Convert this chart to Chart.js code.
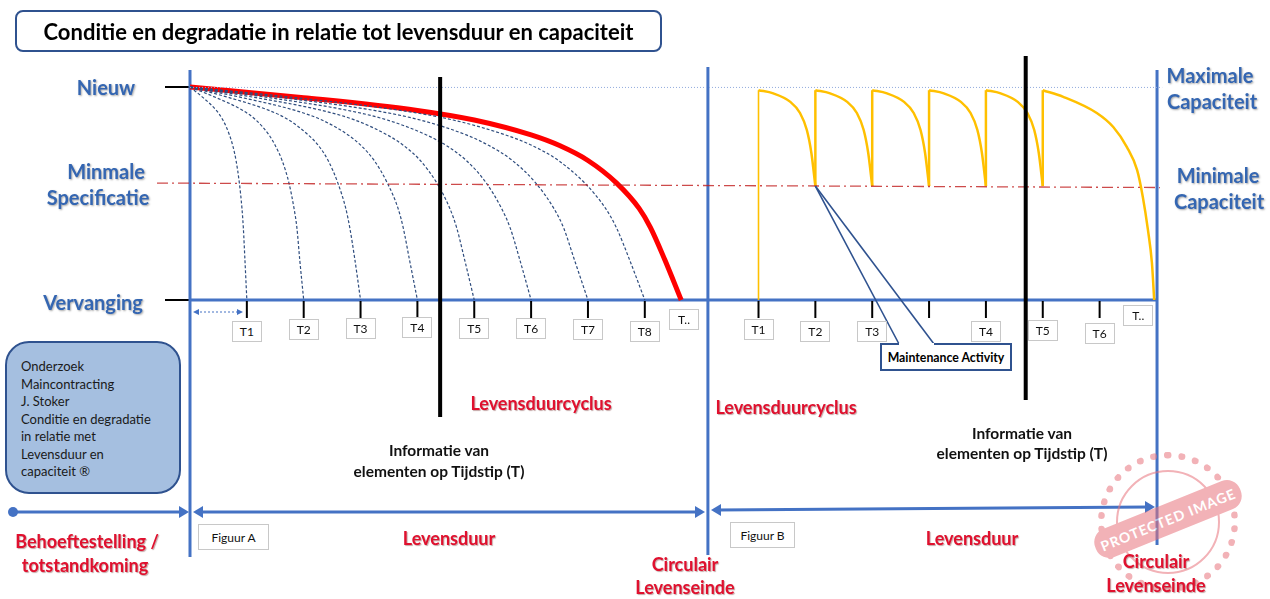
<!DOCTYPE html>
<html>
<head>
<meta charset="utf-8">
<script src="https://cdn.jsdelivr.net/npm/chart.js@4.4.0/dist/chart.umd.min.js"></script>
<style>
  html, body { margin: 0; padding: 0; background: #fff; overflow: hidden; }
  #wrap { position: relative; width: 1270px; height: 599px; font-family: Lato, "Open Sans", sans-serif; }
  #diagram { position: absolute; left: 0; top: 0; }
  .lbl { position: absolute; transform: translate(-50%, -50%); white-space: nowrap; font-weight: bold; }
  .blue { color: #3466B2; font-size: 20px; text-shadow: 1px 1px 2px rgba(0,0,0,0.35); }
  .red { color: #E0102E; font-size: 18px; text-shadow: 1px 1px 1px rgba(90,0,0,0.35); }
  .info { color: #111; font-size: 15.5px; }
  .box { position: absolute; background: #fff; border: 1px solid #c8c8c8; font-size: 12px; color: #111;
         display: flex; align-items: center; justify-content: center; box-sizing: border-box; }
  #title { position: absolute; left: 15px; top: 10px; width: 647px; height: 42px; box-sizing: border-box;
           border: 2px solid #2F528F; border-radius: 8px; font-weight: bold; font-size: 22px;
           display: flex; align-items: center; justify-content: center; color: #000; }
  #note { position: absolute; left: 5px; top: 341px; width: 176px; height: 153px; box-sizing: border-box;
          background: #A5BFE0; border: 2px solid #2F528F; border-radius: 24px; font-size: 13px;
          line-height: 17.5px; color: #1a1a1a; padding: 15px 0 0 14px; }
  #maint { position: absolute; left: 880px; top: 343px; width: 132px; height: 28px; box-sizing: border-box;
           background: #fff; border: 2px solid #2F528F; font-size: 12.3px; font-weight: bold;
           display: flex; align-items: center; justify-content: center; }
  #gap { position: absolute; left: 899px; top: 343px; width: 35px; height: 2px; background: #fff; }
  #stamp { position: absolute; left: 1098px; top: 452px; width: 140px; height: 140px; opacity: 0.55; }
  #stamp .r1 { position: absolute; inset: 0; border-radius: 50%; border: 7px dotted #E8737C; box-sizing: border-box; }
  #stamp .r2 { position: absolute; inset: 18px; border-radius: 50%; border: 2px solid #E8737C; box-sizing: border-box; }
  #stamp .band { position: absolute; left: -8px; top: 52px; width: 156px; height: 30px; background: #E8737C;
                 border-radius: 14px; transform: rotate(-22deg); color: #fff; font-weight: bold; font-size: 14px;
                 letter-spacing: 1px; display: flex; align-items: center; justify-content: center; }
</style>
</head>
<body>
<div id="wrap">
  <canvas id="diagram" width="1270" height="599"></canvas>

  <div id="title">Conditie en degradatie in relatie tot levensduur en capaciteit</div>

  <div class="lbl blue" style="left:106px; top:87px;">Nieuw</div>
  <div class="lbl blue" style="left:106px; top:171px;">Minmale</div>
  <div class="lbl blue" style="left:98px; top:197px;">Specificatie</div>
  <div class="lbl blue" style="left:93px; top:302px;">Vervanging</div>
  <div class="lbl blue" style="left:1210px; top:75px;">Maximale</div>
  <div class="lbl blue" style="left:1212px; top:101px;">Capaciteit</div>
  <div class="lbl blue" style="left:1218px; top:175px;">Minimale</div>
  <div class="lbl blue" style="left:1219px; top:201px;">Capaciteit</div>

  <div class="lbl red" style="left:541px; top:403px;">Levensduurcyclus</div>
  <div class="lbl red" style="left:786px; top:407px;">Levensduurcyclus</div>
  <div class="lbl info" style="left:439px; top:450px;">Informatie van</div>
  <div class="lbl info" style="left:439px; top:471px;">elementen op Tijdstip (T)</div>
  <div class="lbl info" style="left:1022px; top:433px;">Informatie van</div>
  <div class="lbl info" style="left:1022px; top:453px;">elementen op Tijdstip (T)</div>

  <div class="lbl red" style="left:87px; top:541px;">Behoeftestelling /</div>
  <div class="lbl red" style="left:85px; top:565px;">totstandkoming</div>
  <div class="lbl red" style="left:449px; top:538px;">Levensduur</div>
  <div class="lbl red" style="left:972px; top:538px;">Levensduur</div>
  <div class="lbl red" style="left:685px; top:564px;">Circulair</div>
  <div class="lbl red" style="left:685px; top:587px;">Levenseinde</div>

  <div class="box" style="left:198px; top:524px; width:71px; height:26px;">Figuur A</div>
  <div class="box" style="left:730px; top:522px; width:65px; height:26px;">Figuur B</div>

  <div id="note">Onderzoek<br>Maincontracting<br>J. Stoker<br>Conditie en degradatie<br>in relatie met<br>Levensduur en<br>capaciteit &reg;</div>

  <div id="maint">Maintenance Activity</div>
  <div id="gap"></div>

  <div id="stamp"><div class="r1"></div><div class="r2"></div><div class="band">PROTECTED IMAGE</div></div>

  <div class="lbl red" style="left:1156px; top:561px;">Circulair</div>
  <div class="lbl red" style="left:1156px; top:585px;">Levenseinde</div>
</div>

<script>
// x = tijd (T-eenheden), y = conditie (0 = Vervanging, 100 = Nieuw)
const ticksA = [1, 2, 3, 4, 5, 6, 7, 8];
const ticksB = [10, 11, 12, 13, 14, 15, 16];
const tLabelsA = ['T1', 'T2', 'T3', 'T4', 'T5', 'T6', 'T7', 'T8'];
const tLabelsB = ['T1', 'T2', 'T3', '', 'T4', 'T5', 'T6'];

// Figuur A: rode levensduurcurve
const redT = [0, 2, 4, 5, 6, 6.5, 7, 7.5, 7.9, 8.1, 8.35, 8.64];
const redV = [100, 95, 89, 84.5, 77.5, 72.5, 65.5, 55, 43, 34, 19, 0];

// Figuur A: gestippelde curves die eindigen op T1..T8
const dashedV = [100, 95, 89, 84.5, 77.5, 72.5, 65.5, 55, 43, 34, 19, 0];
const dashedT1 = [0, 0.231, 0.463, 0.579, 0.694, 0.752, 0.81, 0.868, 0.914, 0.938, 0.966, 1];
const dashedT2 = [0, 0.46, 0.93, 1.16, 1.39, 1.5, 1.62, 1.74, 1.83, 1.88, 1.93, 2];
const dashedT3 = [0, 0.69, 1.39, 1.74, 2.08, 2.26, 2.43, 2.6, 2.74, 2.81, 2.9, 3];
const dashedT4 = [0, 0.92, 1.85, 2.32, 2.78, 3.01, 3.24, 3.47, 3.66, 3.75, 3.86, 4];
const dashedT5 = [0, 1.16, 2.32, 2.9, 3.47, 3.76, 4.05, 4.34, 4.57, 4.69, 4.83, 5];
const dashedT6 = [0, 1.39, 2.78, 3.47, 4.16, 4.51, 4.86, 5.21, 5.48, 5.63, 5.8, 6];
const dashedT7 = [0, 1.62, 3.24, 4.05, 4.86, 5.26, 5.67, 6.08, 6.4, 6.57, 6.76, 7];
const dashedT8 = [0, 1.85, 3.7, 4.63, 5.55, 6.02, 6.48, 6.94, 7.31, 7.5, 7.73, 8];

// Figuur B: capaciteit met onderhoud (geel)
const cycleV = [98.5, 97, 93, 87.8, 79.8, 69, 53.5];
const cycleT1 = [10, 10.26, 10.56, 10.73, 10.85, 10.93, 11];
const cycleT2 = [11, 11.26, 11.56, 11.73, 11.85, 11.93, 12];
const cycleT3 = [12, 12.26, 12.56, 12.73, 12.85, 12.93, 13];
const cycleT4 = [13, 13.26, 13.56, 13.73, 13.85, 13.93, 14];
const cycleT5 = [14, 14.26, 14.56, 14.73, 14.85, 14.93, 15];
const lastT = [15, 15.36, 15.95, 16.24, 16.48, 16.66, 16.76, 16.85, 16.92, 16.96];
const lastV = [98.5, 95.4, 87.8, 81.2, 71.8, 61, 48.4, 32.9, 17.4, 0];
const jumpT = [11, 12, 13, 14, 15];
const jumpFrom = 53.5, jumpTo = 98.5;
const startT = 10;

// referentielijnen
const newT = [0, 17.1];
const newV = [99.8, 99.8];
const minT = [-0.58, 17.06];
const minV = [54.9, 52.8];
const markerT = [4.4, 14.7];          // zwarte lijnen: informatie op tijdstip T
const axisT = [0, 9.11, 17.01];       // blauwe verticale assen

// schaal zodat de hele pagina het tekengebied is
const X_MIN = -3.342, X_MAX = 18.997;
const Y_MIN = -140.376, Y_MAX = 140.845;

function pts(ts, vs) {
    return ts.map((t, i) => ({ x: t, y: vs[i] }));
}

const datasets = [];
datasets.push({ data: pts(newT, newV), borderColor: '#8FAADC', borderWidth: 1, borderDash: [1, 2] });
datasets.push({ data: pts(minT, minV), borderColor: 'rgba(192, 30, 30, 0.8)', borderWidth: 1.3, borderDash: [11, 4, 2, 4] });
[dashedT1, dashedT2, dashedT3, dashedT4, dashedT5, dashedT6, dashedT7, dashedT8].forEach(ts => {
    datasets.push({ data: pts(ts, dashedV), borderColor: '#2F4D7E', borderWidth: 1.2, borderDash: [3, 2],
                    cubicInterpolationMode: 'monotone' });
});
datasets.push({ data: pts(redT, redV), borderColor: '#FF0000', borderWidth: 5, cubicInterpolationMode: 'monotone' });
datasets.push({ data: [{ x: startT, y: 0 }, { x: startT, y: jumpTo }], borderColor: '#FFC000', borderWidth: 1.6 });
jumpT.forEach(t => {
    datasets.push({ data: [{ x: t, y: jumpFrom }, { x: t, y: jumpTo }], borderColor: '#FFC000', borderWidth: 2.5 });
});
[cycleT1, cycleT2, cycleT3, cycleT4, cycleT5].forEach(ts => {
    datasets.push({ data: pts(ts, cycleV), borderColor: '#FFC000', borderWidth: 2.5, cubicInterpolationMode: 'monotone' });
});
datasets.push({ data: pts(lastT, lastV), borderColor: '#FFC000', borderWidth: 2.5, cubicInterpolationMode: 'monotone' });
datasets.forEach(d => { d.showLine = true; d.pointRadius = 0; d.clip = false; d.fill = false; });

function line(ctx, x1, y1, x2, y2) {
    ctx.beginPath();
    ctx.moveTo(x1, y1);
    ctx.lineTo(x2, y2);
    ctx.stroke();
}

function arrowHead(ctx, x, y, dir, len, half) {
    ctx.beginPath();
    ctx.moveTo(x, y);
    ctx.lineTo(x - dir * len, y - half);
    ctx.lineTo(x - dir * len, y + half);
    ctx.closePath();
    ctx.fill();
}

const decor = {
    id: 'decor',
    beforeDatasetsDraw(chart) {
        const ctx = chart.ctx, sx = chart.scales.x, sy = chart.scales.y;
        const y0 = sy.getPixelForValue(0), yN = sy.getPixelForValue(100);
        ctx.save();
        // zwarte korte lijnen bij Nieuw en Vervanging
        ctx.strokeStyle = '#000';
        ctx.lineWidth = 2;
        line(ctx, sx.getPixelForValue(-0.44), yN, sx.getPixelForValue(0), yN);
        line(ctx, sx.getPixelForValue(-0.44), y0, sx.getPixelForValue(0), y0);
        // blauwe assen
        ctx.strokeStyle = '#4472C4';
        ctx.lineWidth = 3;
        const tops = [70, 67, 70], bottoms = [557, 555, 545];
        axisT.forEach((t, i) => line(ctx, sx.getPixelForValue(t), tops[i], sx.getPixelForValue(t), bottoms[i]));
        line(ctx, sx.getPixelForValue(0), y0, sx.getPixelForValue(axisT[2]), y0);
        // tijdstippen
        ctx.strokeStyle = '#000';
        ctx.lineWidth = 2;
        ticksA.concat(ticksB).forEach(t => {
            const px = sx.getPixelForValue(t);
            line(ctx, px, y0 + 1, px, y0 + 18);
        });
        ctx.restore();
    },
    afterDatasetsDraw(chart) {
        const ctx = chart.ctx, sx = chart.scales.x, sy = chart.scales.y;
        ctx.save();
        // zwarte informatielijnen
        ctx.strokeStyle = '#000';
        ctx.lineWidth = 4;
        line(ctx, sx.getPixelForValue(markerT[0]), 77, sx.getPixelForValue(markerT[0]), 417);
        line(ctx, sx.getPixelForValue(markerT[1]), 56, sx.getPixelForValue(markerT[1]), 400);
        // callout naar Maintenance Activity
        const tipX = sx.getPixelForValue(11), tipY = sy.getPixelForValue(jumpFrom);
        ctx.strokeStyle = '#2F528F';
        ctx.lineWidth = 1.6;
        line(ctx, tipX, tipY, 899, 344);
        line(ctx, tipX, tipY, 934, 344);
        // kleine gestippelde pijl onder T1
        ctx.strokeStyle = '#4472C4';
        ctx.fillStyle = '#4472C4';
        ctx.lineWidth = 1;
        ctx.setLineDash([2, 2]);
        line(ctx, 196, 312, 239, 312);
        ctx.setLineDash([]);
        arrowHead(ctx, 193, 312, -1, 6, 3);
        arrowHead(ctx, 243, 312, 1, 6, 3);
        // levensduur-pijlen onderaan
        ctx.lineWidth = 3;
        line(ctx, 13, 512, 182, 512);
        ctx.beginPath();
        ctx.arc(13, 512, 5, 0, Math.PI * 2);
        ctx.fill();
        arrowHead(ctx, 189, 512, 1, 10, 6);
        line(ctx, 198, 512, 699, 512);
        arrowHead(ctx, 193, 512, -1, 10, 6);
        arrowHead(ctx, 705, 512, 1, 10, 6);
        line(ctx, 717, 510, 1149, 507);
        arrowHead(ctx, 711, 510, -1, 10, 6);
        arrowHead(ctx, 1155, 507, 1, 10, 6);
        ctx.restore();
    }
};

const chart = new Chart(document.getElementById('diagram'), {
    type: 'scatter',
    data: { datasets: datasets },
    options: {
        responsive: false,
        animation: false,
        devicePixelRatio: 1,
        layout: { padding: 0 },
        scales: {
            x: { type: 'linear', min: X_MIN, max: X_MAX, display: false },
            y: { type: 'linear', min: Y_MIN, max: Y_MAX, display: false }
        },
        plugins: {
            legend: { display: false },
            tooltip: { enabled: false }
        }
    },
    plugins: [decor]
});

// T-labels onder de tijdstippen
const wrap = document.getElementById('wrap');
const yOffA = [331, 329, 328, 327, 328, 328, 329, 331];
const yOffB = [329, 331, 331, 0, 331, 330, 333];
function addT(text, t, cy) {
    const d = document.createElement('div');
    d.className = 'box';
    d.textContent = text;
    d.style.width = '30px';
    d.style.height = '21px';
    d.style.left = (chart.scales.x.getPixelForValue(t) - 15) + 'px';
    d.style.top = (cy - 10) + 'px';
    wrap.appendChild(d);
}
ticksA.forEach((t, i) => addT(tLabelsA[i], t, yOffA[i]));
ticksB.forEach((t, i) => { if (tLabelsB[i]) addT(tLabelsB[i], t, yOffB[i]); });
addT('T..', 8.69, 319);
addT('T..', 16.68, 315);
</script>
</body>
</html>
